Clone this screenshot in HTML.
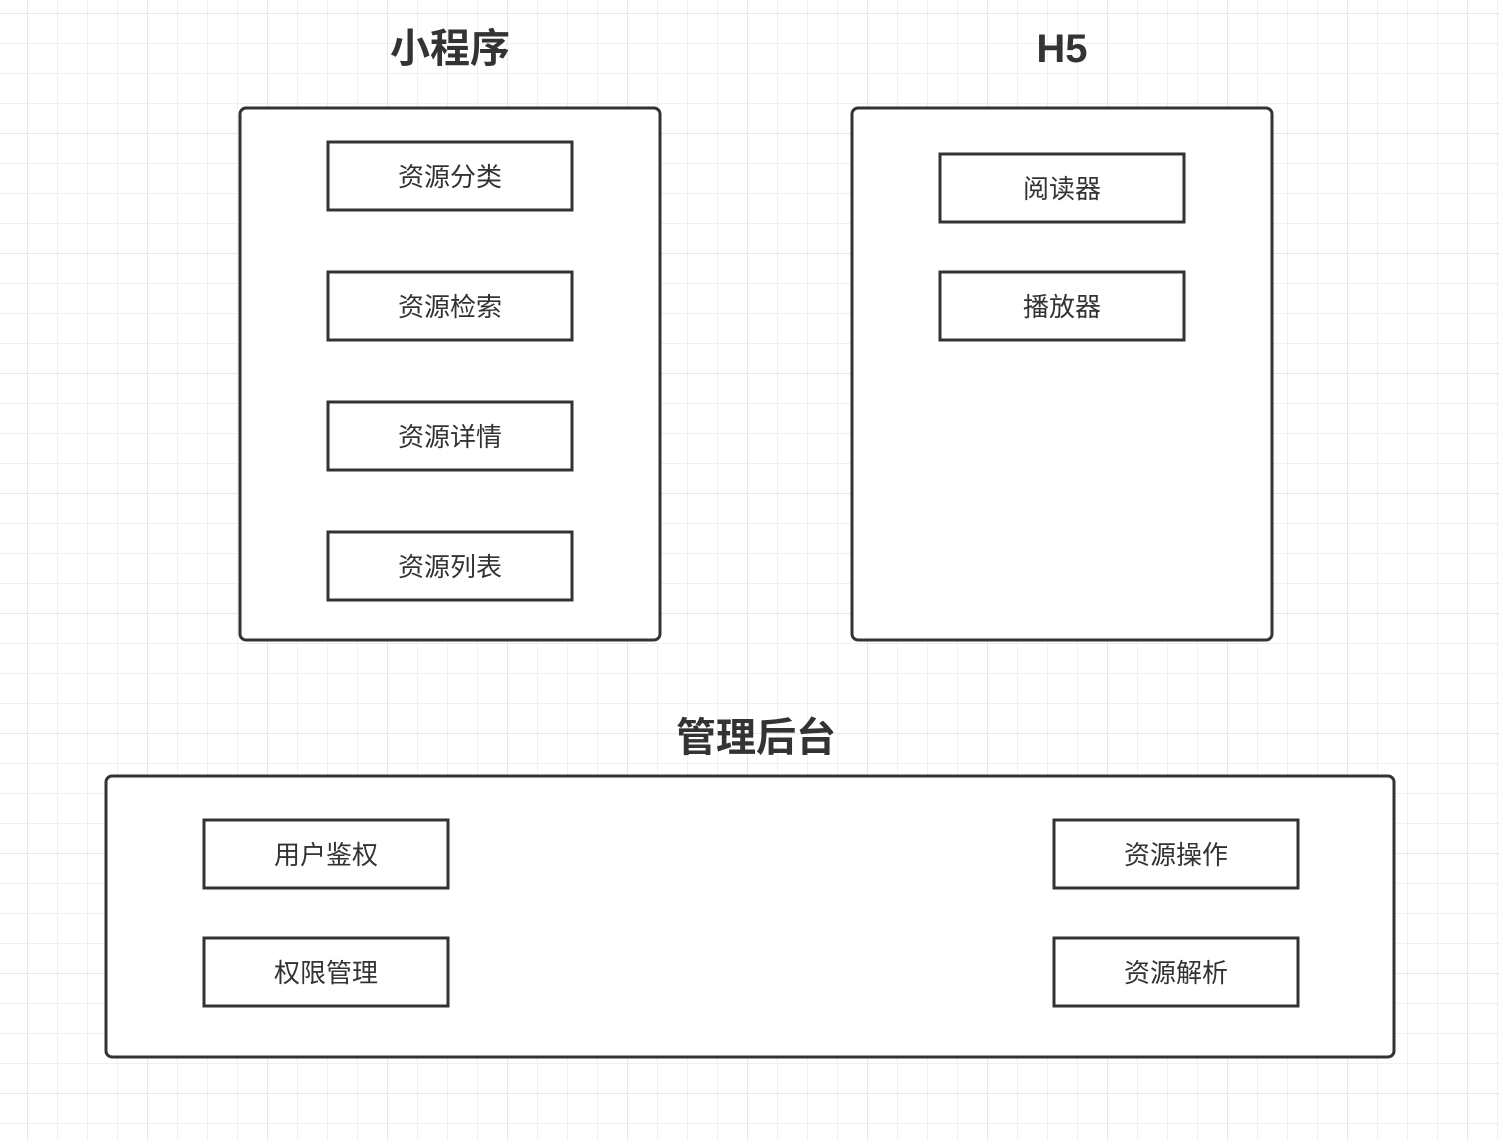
<!DOCTYPE html>
<html><head><meta charset="utf-8"><style>
html,body{margin:0;padding:0;background:#fff}
svg{display:block}
text{font-family:"Liberation Sans","Noto Sans CJK SC",sans-serif;fill:#333}
</style></head><body>
<svg width="1500" height="1140" xmlns="http://www.w3.org/2000/svg">
<defs>
<pattern id="minor" x="27" y="13" width="30" height="30" patternUnits="userSpaceOnUse">
<path d="M0 0H30M0 0V30" stroke="#f0f0f0" stroke-width="2" fill="none"/>
</pattern>
<pattern id="major" x="27" y="13" width="120" height="120" patternUnits="userSpaceOnUse">
<path d="M0 0H120M0 0V120" stroke="#e8e8e8" stroke-width="2" fill="none"/>
</pattern>
</defs>
<rect width="1500" height="1140" fill="url(#minor)"/>
<rect width="1500" height="1140" fill="url(#major)"/>
<g stroke="#333" stroke-width="3" fill="#fff">
<rect x="240" y="108" width="420" height="532" rx="6"/>
<rect x="852" y="108" width="420" height="532" rx="6"/>
<rect x="106" y="776" width="1288" height="281" rx="6"/>
<rect x="328" y="142" width="244" height="68"/>
<rect x="328" y="272" width="244" height="68"/>
<rect x="328" y="402" width="244" height="68"/>
<rect x="328" y="532" width="244" height="68"/>
<rect x="940" y="154" width="244" height="68"/>
<rect x="940" y="272" width="244" height="68"/>
<rect x="204" y="820" width="244" height="68"/>
<rect x="204" y="938" width="244" height="68"/>
<rect x="1054" y="820" width="244" height="68"/>
<rect x="1054" y="938" width="244" height="68"/>
</g>
<g font-size="40" font-weight="bold" text-anchor="middle">
<text x="450" y="62">小程序</text>
<text x="1062" y="62">H5</text>
<text x="756" y="751">管理后台</text>
</g>
<g font-size="26" text-anchor="middle">
<text x="450" y="186">资源分类</text>
<text x="450" y="316">资源检索</text>
<text x="450" y="446">资源详情</text>
<text x="450" y="576">资源列表</text>
<text x="1062" y="198">阅读器</text>
<text x="1062" y="316">播放器</text>
<text x="326" y="864">用户鉴权</text>
<text x="326" y="982">权限管理</text>
<text x="1176" y="864">资源操作</text>
<text x="1176" y="982">资源解析</text>
</g>
</svg>
</body></html>
